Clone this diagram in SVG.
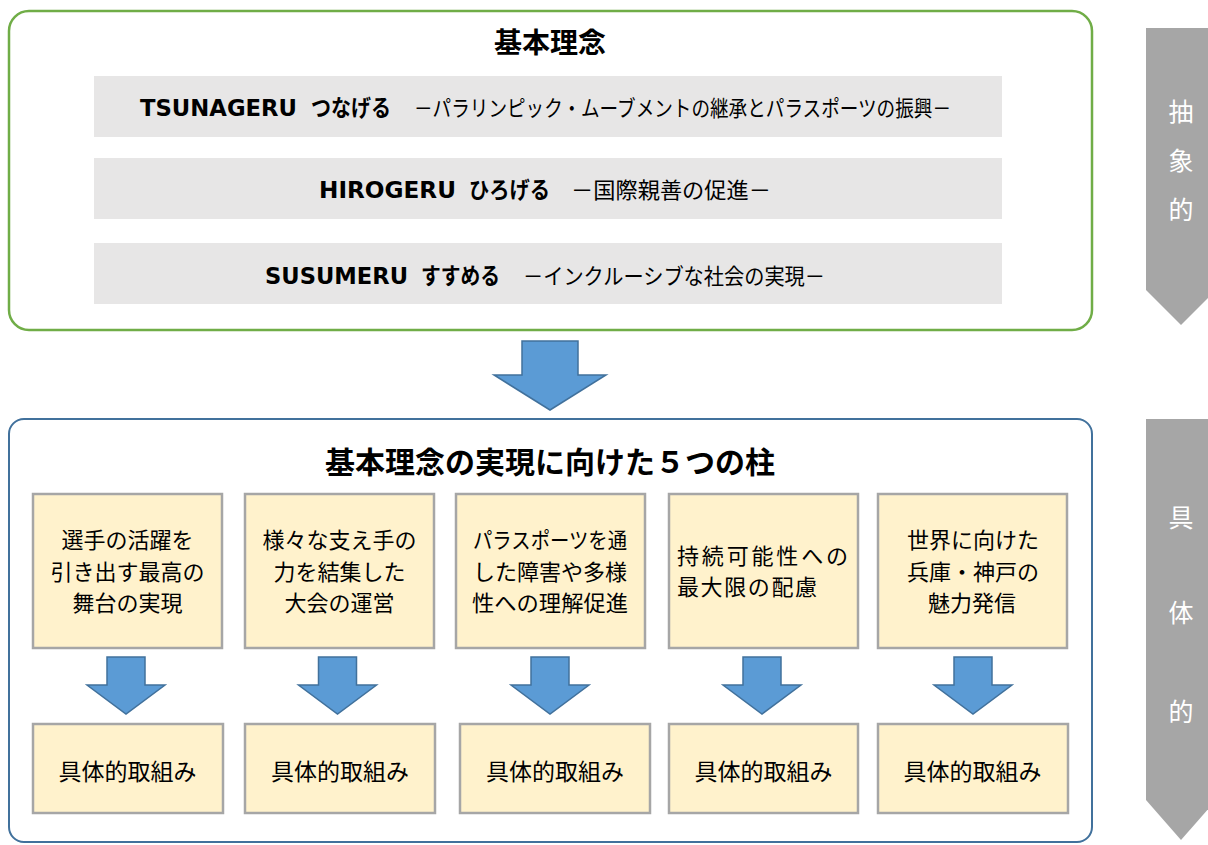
<svg xmlns="http://www.w3.org/2000/svg" width="1208" height="845" viewBox="0 0 1208 845">
<defs>
<style>
.jp{font-family:"Noto Sans CJK JP","Noto Sans CJK SC",sans-serif;fill:#000}
.lat{font-family:"DejaVu Sans","Noto Sans CJK JP",sans-serif;font-weight:bold;fill:#000}
.b{font-weight:bold}
.bar{fill:#E7E6E6}
.pill{fill:#FFF2CC;stroke:#A6A6A6;stroke-width:2.5}
.arr{fill:#5B9BD5;stroke:#41719C;stroke-width:1.5;stroke-linejoin:miter}
.side{fill:#A6A6A6}
.sidet{font-family:"Noto Sans CJK JP",sans-serif;font-size:25px;fill:#FFFFFF;text-anchor:middle}
.pt{font-size:22px}
.mid{text-anchor:middle}
</style>
</defs>
<rect width="1208" height="845" fill="#FFFFFF"/>

<g id="side-abstract">
<path class="side" d="M1146,28 H1216 V290 L1181,325 L1146,290 Z"/>
<text class="sidet" x="1181" y="121">抽</text>
<text class="sidet" x="1181" y="170">象</text>
<text class="sidet" x="1181" y="219">的</text>
</g>
<g id="side-concrete">
<path class="side" d="M1146,419 H1216 V800 L1181,840 L1146,800 Z"/>
<text class="sidet" x="1181" y="527">具</text>
<text class="sidet" x="1181" y="622">体</text>
<text class="sidet" x="1181" y="721">的</text>
</g>

<g id="basic-philosophy">
<rect x="9" y="11" width="1083" height="319" rx="20" ry="20" fill="#FFFFFF" stroke="#70AD47" stroke-width="2.5"/>
<text class="jp b mid" x="550" y="53" font-size="28">基本理念</text>
</g>

<g id="tsunageru">
<rect class="bar" x="94" y="76" width="908" height="61"/>
<text class="lat" x="140" y="116" font-size="23" textLength="157" lengthAdjust="spacingAndGlyphs">TSUNAGERU</text>
<text class="jp b" x="311" y="116" font-size="23" textLength="80" lengthAdjust="spacingAndGlyphs">つなげる</text>
<text class="jp" x="414" y="116" font-size="22" textLength="537" lengthAdjust="spacingAndGlyphs">－パラリンピック・ムーブメントの継承とパラスポーツの振興－</text>
</g>
<g id="hirogeru">
<rect class="bar" x="94" y="158" width="908" height="61"/>
<text class="lat" x="319" y="198" font-size="23" textLength="137" lengthAdjust="spacingAndGlyphs">HIROGERU</text>
<text class="jp b" x="469" y="198" font-size="23" textLength="81" lengthAdjust="spacingAndGlyphs">ひろげる</text>
<text class="jp" x="571" y="198" font-size="22" textLength="200" lengthAdjust="spacingAndGlyphs">－国際親善の促進－</text>
</g>
<g id="susumeru">
<rect class="bar" x="94" y="243" width="908" height="61"/>
<text class="lat" x="265" y="284" font-size="23" textLength="143" lengthAdjust="spacingAndGlyphs">SUSUMERU</text>
<text class="jp b" x="421" y="284" font-size="23" textLength="79" lengthAdjust="spacingAndGlyphs">すすめる</text>
<text class="jp" x="523" y="284" font-size="22" textLength="302" lengthAdjust="spacingAndGlyphs">－インクルーシブな社会の実現－</text>
</g>

<g id="five-pillars">
<rect x="9" y="419" width="1083" height="423" rx="15" ry="15" fill="#FFFFFF" stroke="#41719C" stroke-width="2"/>
<text class="jp b mid" x="550" y="473" font-size="30">基本理念の実現に向けた５つの柱</text>
</g>

<g id="pillar1">
<rect class="pill" x="33" y="494" width="189" height="154"/>
<text class="jp pt mid" x="127.5" y="548">選手の活躍を</text>
<text class="jp pt mid" x="127.5" y="580">引き出す最高の</text>
<text class="jp pt mid" x="127.5" y="611">舞台の実現</text>
</g>
<g id="pillar2">
<rect class="pill" x="245" y="494" width="189" height="154"/>
<text class="jp pt mid" x="339.5" y="548">様々な支え手の</text>
<text class="jp pt mid" x="339.5" y="580">力を結集した</text>
<text class="jp pt mid" x="339.5" y="611">大会の運営</text>
</g>
<g id="pillar3">
<rect class="pill" x="456" y="494" width="189" height="154"/>
<text class="jp pt" x="473" y="548" textLength="154" lengthAdjust="spacingAndGlyphs">パラスポーツを通</text>
<text class="jp pt" x="473" y="580" textLength="154" lengthAdjust="spacingAndGlyphs">した障害や多様</text>
<text class="jp pt" x="472" y="611" textLength="156" lengthAdjust="spacingAndGlyphs">性への理解促進</text>
</g>
<g id="pillar4">
<rect class="pill" x="669" y="494" width="189" height="154"/>
<text class="jp pt" x="677" y="564" textLength="171" lengthAdjust="spacing">持続可能性への</text>
<text class="jp pt" x="677" y="595" textLength="140" lengthAdjust="spacing">最大限の配慮</text>
</g>
<g id="pillar5">
<rect class="pill" x="878" y="494" width="189" height="154"/>
<text class="jp pt mid" x="973" y="548">世界に向けた</text>
<text class="jp pt mid" x="973" y="580">兵庫・神戸の</text>
<text class="jp pt mid" x="972" y="611">魅力発信</text>
</g>

<g id="action1">
<rect class="pill" x="33" y="724" width="190" height="89"/>
<text class="jp mid" x="127.5" y="780" font-size="23">具体的取組み</text>
</g>
<g id="action2">
<rect class="pill" x="245" y="724" width="190" height="89"/>
<text class="jp mid" x="340" y="780" font-size="23">具体的取組み</text>
</g>
<g id="action3">
<rect class="pill" x="460" y="724" width="190" height="89"/>
<text class="jp mid" x="555" y="780" font-size="23">具体的取組み</text>
</g>
<g id="action4">
<rect class="pill" x="669" y="724" width="189" height="89"/>
<text class="jp mid" x="763.5" y="780" font-size="23">具体的取組み</text>
</g>
<g id="action5">
<rect class="pill" x="878" y="724" width="190" height="89"/>
<text class="jp mid" x="972.5" y="780" font-size="23">具体的取組み</text>
</g>

<g id="connectors">
<path class="arr" d="M522,341 H578 V375 H606 L550,410 L494,375 H522 Z"/>
<path class="arr" transform="translate(126,0)" d="M-19,657 H19 V685 H39 L0,714 L-39,685 H-19 Z"/>
<path class="arr" transform="translate(337.5,0)" d="M-19,657 H19 V685 H39 L0,714 L-39,685 H-19 Z"/>
<path class="arr" transform="translate(550,0)" d="M-19,657 H19 V685 H39 L0,714 L-39,685 H-19 Z"/>
<path class="arr" transform="translate(762,0)" d="M-19,657 H19 V685 H39 L0,714 L-39,685 H-19 Z"/>
<path class="arr" transform="translate(973,0)" d="M-19,657 H19 V685 H39 L0,714 L-39,685 H-19 Z"/>
</g>
</svg>
